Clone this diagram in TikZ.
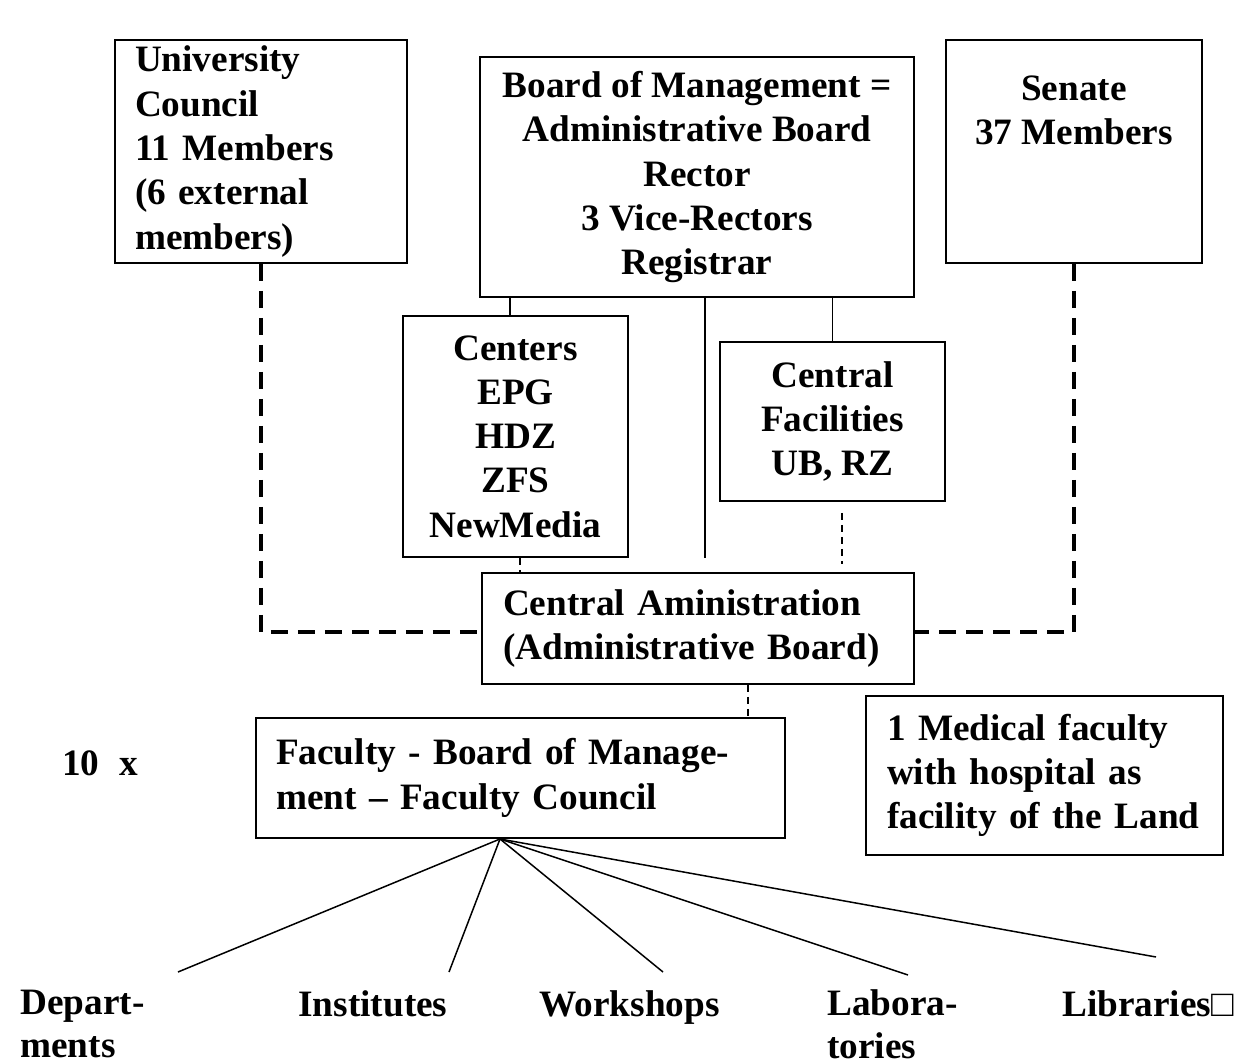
\documentclass[tikz,border=0pt]{standalone}
\usepackage{fontspec}
\setmainfont{Liberation Serif}
\usetikzlibrary{calc,positioning}

\begin{document}
\begin{tikzpicture}[x=0.02cm,y=-0.02cm,
     box/.style = {draw, rectangle, line width=0.04cm, inner sep=0pt,
      font=\bfseries\fontsize{21.2}{25.2}\selectfont},
     lbl/.style = {inner sep=0pt, font=\bfseries\fontsize{21.2}{25.2}\selectfont},
     link/.style = {line width=0.03cm},
     thindash/.style = {line width=0.03cm, dash pattern=on 0.14cm off 0.1cm},
     thickdash/.style = {line width=0.08cm, dash pattern=on 0.34cm off 0.2cm}
    ]
    \useasboundingbox (0,0) rectangle (1238,1061);

    \node [box, minimum width=5.84cm, minimum height=4.46cm, text width=5.04cm, align=left] (uc) at (261,151.5)
      {University\\Council\\11 Members\\(6 external\\members)};
    \node [box, minimum width=8.68cm, minimum height=4.8cm, align=center] (board) at (697,177)
      {Board of Management =\\Administrative Board\\Rector\\3 Vice-Rectors\\Registrar};
    \node [box, minimum width=5.12cm, minimum height=4.46cm] (senate) at (1074,151.5) {};
    \node [lbl, align=center] (senatetxt) at (1074,110) {Senate\\37 Members};
    \node [box, minimum width=4.5cm, minimum height=4.82cm, align=center] (centers) at (515.5,436.5)
      {Centers\\EPG\\HDZ\\ZFS\\NewMedia};
    \node [box, minimum width=4.5cm, minimum height=3.18cm, align=center] (facil) at (832.5,421.5)
      {Central\\Facilities\\UB, RZ};
    \node [box, minimum width=8.64cm, minimum height=2.22cm, text width=7.8cm, align=left] (admin) at (698,628.5)
      {Central Aministration\\(Administrative Board)};
    \node [box, minimum width=10.58cm, minimum height=2.4cm, text width=9.78cm, align=left] (faculty) at (520.5,778)
      {Faculty - Board of Manage-\\ment – Faculty Council};
    \node [box, minimum width=7.14cm, minimum height=3.18cm, text width=6.3cm, align=left] (medical) at (1044.5,775.5)
      {1 Medical faculty\\with hospital as\\facility of the Land};
    \node [lbl, anchor=west] (times) at (62,763) {10\hspace{0.4cm}x};

    % bottom row
    \node [lbl, align=left, anchor=west, font=\bfseries\fontsize{21.2}{24.4}\selectfont] (dept) at (20,1024) {Depart-\\ments};
    \node [lbl, anchor=base] (inst) at (373,1016) {Institutes};
    \node [lbl, anchor=base] (work) at (629.5,1016) {Workshops};
    \node [lbl, align=left, anchor=west, font=\bfseries\fontsize{21.2}{24.4}\selectfont] (labs) at (827,1024) {Labora-\\tories};
    \node [lbl, anchor=base west] (libs) at (1062,1016) {Libraries□};

    % board links
    \coordinate (cen top) at ([xshift=-0.11cm]centers.north);
    \draw[link] (cen top) -- (cen top |- board.south);
    \coordinate (bd stem) at ([xshift=0.16cm]board.south);
    \draw[link] (bd stem) -- (bd stem |- centers.south);
    \draw[link] (facil.north) -- (facil.north |- board.south);

    % dashed links
    \coordinate (fac low) at ([xshift=0.19cm]facil.south);
    \draw[thindash, shorten <=0.22cm, shorten >=0.16cm] (fac low) -- (fac low |- admin.north);
    \coordinate (cen low) at ([xshift=0.09cm]centers.south);
    \draw[thindash] (cen low) -- (cen low |- admin.north);
    \coordinate (adm low) at ([xshift=1cm]admin.south);
    \draw[thindash] (adm low) -- (adm low |- faculty.north);
    \draw[thickdash] (uc.south) |- ([yshift=-0.07cm]admin.west);
    \draw[thickdash] (senate.south) |- ([yshift=-0.07cm]admin.east);

    % faculty fan
    \coordinate (fan) at ([xshift=-0.41cm]faculty.south);
    \foreach \t/\x/\y in {dept/178/972, inst/449/972, work/663/972, labs/908/975, libs/1156/957}
      \coordinate (\t end) at (\x,\y);
    \foreach \t in {dept,inst,work,labs,libs}
      \draw[link] (fan) -- (\t end);
\end{tikzpicture}
\end{document}
